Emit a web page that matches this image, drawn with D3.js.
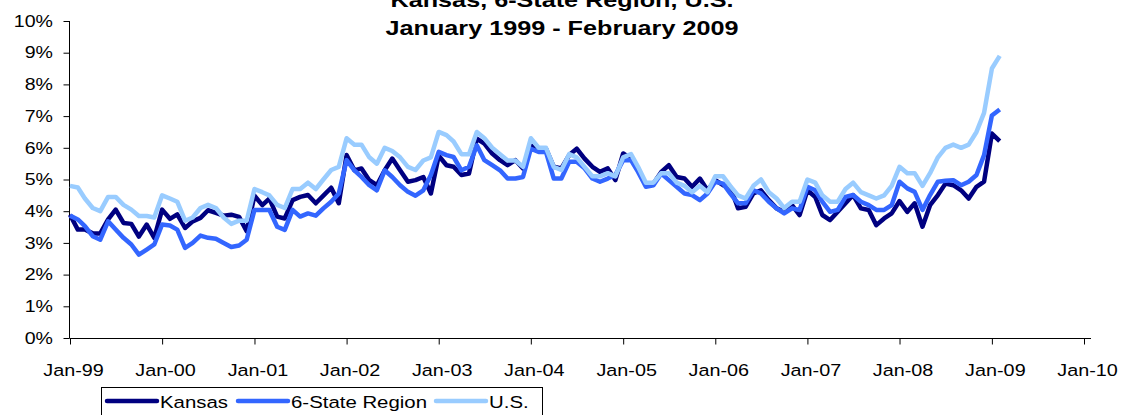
<!DOCTYPE html>
<html>
<head>
<meta charset="utf-8">
<script src="https://cdn.jsdelivr.net/npm/d3@7"></script>
<style>
  body { margin: 0; background: #fff; }
  svg { display: block; font-family: "Liberation Sans", Arial, sans-serif; }
</style>
</head>
<body>
<svg id="chart" width="1121" height="415"></svg>
<script>
// monthly unemployment rate, Jan 1999 - Feb 2009 (percent)
var kansas = [
  3.89, 3.42, 3.42, 3.30, 3.30, 3.74, 4.05, 3.63, 3.60, 3.20, 3.58, 3.16,
  4.05, 3.76, 3.90, 3.47, 3.68, 3.79, 4.03, 3.95, 3.86, 3.89, 3.82, 3.37,
  4.49, 4.19, 4.40, 3.83, 3.77, 4.35, 4.45, 4.51, 4.25, 4.49, 4.74, 4.25,
  5.77, 5.29, 5.35, 4.98, 4.82, 5.29, 5.66, 5.29, 4.93, 4.98, 5.08, 4.56,
  5.75, 5.45, 5.40, 5.14, 5.19, 6.29, 6.13, 5.82, 5.61, 5.45, 5.61, 5.35,
  6.08, 5.92, 5.97, 5.40, 5.35, 5.77, 5.97, 5.66, 5.40, 5.24, 5.35, 4.98,
  5.82, 5.66, 5.35, 4.82, 4.87, 5.24, 5.45, 5.08, 5.03, 4.77, 5.03, 4.66,
  4.98, 4.82, 4.77, 4.09, 4.14, 4.56, 4.66, 4.35, 4.09, 3.98, 4.19, 3.88,
  4.66, 4.45, 3.88, 3.72, 3.98, 4.25, 4.51, 4.09, 4.04, 3.56, 3.77, 3.93,
  4.32, 3.98, 4.25, 3.51, 4.19, 4.51, 4.87, 4.82, 4.66, 4.40, 4.77, 4.93,
  6.45, 6.21
];
var region = [
  3.86, 3.74, 3.53, 3.21, 3.10, 3.68, 3.42, 3.16, 2.95, 2.63, 2.79, 2.95,
  3.58, 3.55, 3.42, 2.84, 3.00, 3.23, 3.16, 3.13, 3.00, 2.87, 2.92, 3.10,
  4.04, 4.04, 4.04, 3.51, 3.41, 4.04, 3.83, 3.93, 3.86, 4.09, 4.30, 4.56,
  5.61, 5.29, 5.08, 4.82, 4.66, 5.29, 5.08, 4.82, 4.61, 4.49, 4.66, 5.14,
  5.87, 5.77, 5.71, 5.29, 5.40, 6.08, 5.61, 5.45, 5.29, 5.03, 5.03, 5.08,
  5.97, 5.87, 5.87, 5.03, 5.03, 5.56, 5.56, 5.35, 5.03, 4.93, 5.03, 5.14,
  5.61, 5.61, 5.24, 4.77, 4.82, 5.19, 4.98, 4.77, 4.56, 4.51, 4.35, 4.56,
  4.93, 4.87, 4.56, 4.25, 4.25, 4.66, 4.56, 4.30, 4.09, 3.93, 4.09, 4.04,
  4.77, 4.66, 4.30, 3.98, 4.04, 4.45, 4.51, 4.30, 4.19, 4.04, 4.04, 4.19,
  4.93, 4.72, 4.61, 4.04, 4.51, 4.93, 4.96, 4.98, 4.82, 4.93, 5.14, 5.77,
  7.02, 7.21
];
var us = [
  4.80, 4.75, 4.40, 4.10, 4.00, 4.45, 4.45, 4.20, 4.05, 3.85, 3.85, 3.80,
  4.50, 4.40, 4.30, 3.70, 3.80, 4.10, 4.20, 4.10, 3.80, 3.60, 3.70, 3.70,
  4.70, 4.60, 4.50, 4.20, 4.10, 4.70, 4.70, 4.90, 4.70, 5.00, 5.30, 5.40,
  6.30, 6.10, 6.10, 5.70, 5.50, 6.00, 5.90, 5.70, 5.40, 5.30, 5.60, 5.70,
  6.50, 6.40, 6.20, 5.80, 5.80, 6.50, 6.30, 6.00, 5.80, 5.60, 5.60, 5.40,
  6.30, 6.00, 6.00, 5.40, 5.30, 5.80, 5.70, 5.40, 5.10, 5.10, 5.20, 5.10,
  5.70, 5.80, 5.40, 4.90, 4.90, 5.20, 5.20, 4.90, 4.80, 4.60, 4.80, 4.60,
  5.10, 5.10, 4.80, 4.50, 4.40, 4.80, 5.00, 4.60, 4.40, 4.10, 4.30, 4.30,
  5.00, 4.90, 4.50, 4.30, 4.30, 4.70, 4.90, 4.60, 4.50, 4.40, 4.50, 4.80,
  5.40, 5.20, 5.20, 4.80, 5.20, 5.70, 6.00, 6.10, 6.00, 6.10, 6.50, 7.10,
  8.50, 8.90
];
var seriesNames = ["Kansas", "6-State Region", "U.S."];
var seriesColors = ["#000080", "#3366ff", "#99ccff"];
var yTicks = [0, 1, 2, 3, 4, 5, 6, 7, 8, 9, 10];
var titleLines = ["Kansas, 6-State Region, U.S.", "January 1999 - February 2009"];

var months = d3.timeMonths(new Date(1999, 0, 1), new Date(2009, 2, 1));
var xTicks = d3.timeYears(new Date(1999, 0, 1), new Date(2010, 0, 2));

var svg = d3.select("#chart");
var stretch = 1.2; // the original picture is a bit wider than normal text

var x = d3.scaleTime()
  .domain([new Date(1999, 0, 1), new Date(2010, 0, 1)])
  .range([70, 1084]);
var y = d3.scaleLinear()
  .domain([0, 10])
  .range([338, 21]);

// title
svg.selectAll(".title")
  .data(titleLines)
  .enter().append("text")
  .attr("class", "title")
  .attr("transform", function(d, i) {
    return "translate(562," + (6.5 + i * 28.5) + ") scale(" + stretch + ",1)";
  })
  .attr("text-anchor", "middle")
  .attr("font-size", 21)
  .attr("font-weight", "bold")
  .text(function(d) { return d; });

// y axis
var yAxis = svg.append("g")
  .attr("transform", "translate(69.5,0)")
  .call(d3.axisLeft(y).tickValues(yTicks).tickSize(6).tickSizeOuter(0)
    .tickFormat(function(d) { return d + "%"; }));
yAxis.select(".domain").remove();
yAxis.selectAll("line").attr("stroke", "#000");
yAxis.selectAll("text")
  .attr("x", null)
  .attr("transform", "translate(-16.5,0) scale(" + stretch + ",1)")
  .attr("font-size", 16.3)
  .attr("font-family", null)
  .attr("fill", "#000");
svg.append("line")
  .attr("x1", 69.5).attr("x2", 69.5)
  .attr("y1", y(10)).attr("y2", y(0))
  .attr("stroke", "#000");

// x axis
var xAxis = svg.append("g")
  .attr("transform", "translate(0," + (y(0) + 0.5) + ")")
  .call(d3.axisBottom(x).tickValues(xTicks).tickSize(6).tickSizeOuter(0)
    .tickFormat(d3.timeFormat("%b-%y")));
xAxis.select(".domain").remove();
xAxis.selectAll("line").attr("stroke", "#000");
xAxis.selectAll("text")
  .attr("y", null).attr("dy", null)
  .attr("transform", "translate(3,37.5) scale(" + stretch + ",1)")
  .attr("font-size", 16.5)
  .attr("font-family", null)
  .attr("fill", "#000");
svg.append("line")
  .attr("x1", 69.5).attr("x2", 1091)
  .attr("y1", y(0) + 0.5).attr("y2", y(0) + 0.5)
  .attr("stroke", "#000");

// lines
var line = d3.line()
  .x(function(d, i) { return x(months[i]); })
  .y(function(d) { return y(d); });

svg.selectAll(".series")
  .data([kansas, region, us])
  .enter().append("path")
  .attr("class", "series")
  .attr("d", line)
  .attr("fill", "none")
  .attr("stroke", function(d, i) { return seriesColors[i]; })
  .attr("stroke-width", 4.5)
  .attr("stroke-linejoin", "round");

// legend
var legend = svg.append("g");
legend.append("rect")
  .attr("x", 101.5).attr("y", 387.5)
  .attr("width", 441).attr("height", 40)
  .attr("fill", "#fff").attr("stroke", "#000");

var legendX = [107, 238, 436];
var items = legend.selectAll(".item")
  .data(seriesNames)
  .enter().append("g")
  .attr("transform", function(d, i) { return "translate(" + legendX[i] + ",401)"; });
items.append("line")
  .attr("x1", 0).attr("x2", 50)
  .attr("stroke", function(d, i) { return seriesColors[i]; })
  .attr("stroke-width", 4.5)
  .attr("stroke-linecap", "round");
items.append("text")
  .attr("transform", "translate(53,6.5) scale(" + stretch + ",1)")
  .attr("font-size", 17)
  .text(function(d) { return d; });
</script>
</body>
</html>
